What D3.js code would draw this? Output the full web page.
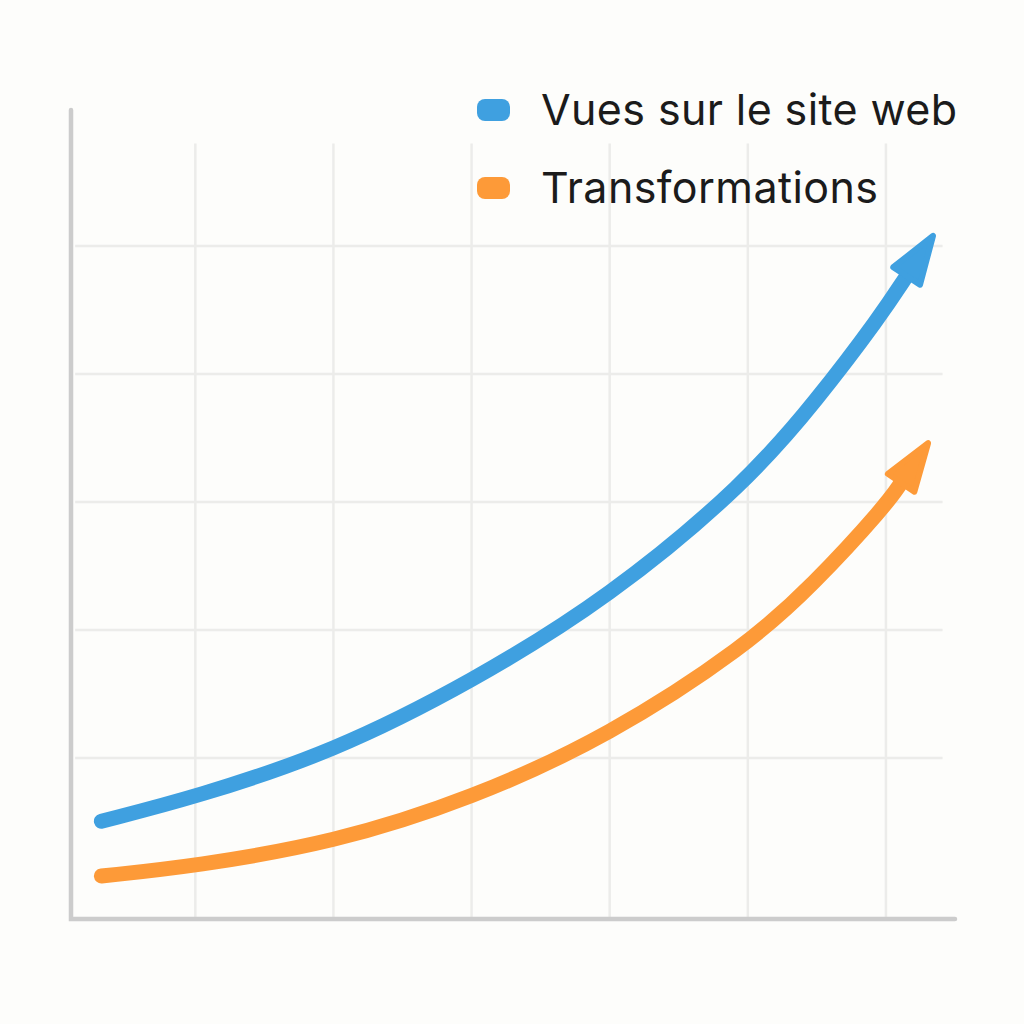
<!DOCTYPE html>
<meta charset="utf-8">
<style>
html, body { margin: 0; padding: 0; background: #fdfdfb; }
svg { display: block; }
.grid line { stroke: #ececea; stroke-width: 2.5px; }
.axis { stroke: #cccccc; stroke-width: 4.5px; stroke-linecap: round; fill: none; }
.series { fill: none; stroke-width: 15px; stroke-linecap: round; stroke-linejoin: round; }
.legend text { font-family: Inter, "Liberation Sans", Arial, sans-serif; font-size: 43px; fill: #1b1b1b; }
</style>
<body>
<script src="https://cdn.jsdelivr.net/npm/d3@7"></script>
<script>

// series values (x in weeks-ish units, y in arbitrary units)
var viewsX = [2.2, 9, 19, 29, 39, 48.9, 54, 58.6, 60.5];
var viewsY = [12.1, 15.1, 20.75, 29.5, 40.1, 54.4, 64.75, 75.25, 80.25];
var convX = [2.2, 9, 19, 29, 39, 48.9, 53.7, 59, 60.1];
var convY = [5.25, 6.5, 9.4, 14.9, 22.8, 34.0, 41.6, 51.6, 54.4];

var seriesNames = ["Vues sur le site web", "Transformations"];
var seriesColors = ["#3fa0e0", "#fd9a38"];

// grid positions
var xGrid = [9, 19, 29, 39, 49, 59];
var yGrid = [20, 36, 52, 68, 84];

var width = 1024, height = 1024;

var x = d3.scaleLinear().domain([0, 64]).range([71, 955]);
var y = d3.scaleLinear().domain([0, 101]).range([918, 110]);

var svg = d3.select("body").append("svg")
    .attr("width", width)
    .attr("height", height);

var defs = svg.append("defs");
seriesColors.forEach(function(c, i) {
  defs.append("marker")
      .attr("id", "arrow" + i)
      .attr("markerUnits", "userSpaceOnUse")
      .attr("viewBox", "-5 -25 65 50")
      .attr("markerWidth", 65)
      .attr("markerHeight", 50)
      .attr("refX", 0)
      .attr("refY", 0)
      .attr("orient", "auto")
    .append("path")
      .attr("d", "M0,-16L48,0L0,16Z")
      .attr("fill", c)
      .attr("stroke", c)
      .attr("stroke-width", 6)
      .attr("stroke-linejoin", "round");
});

var grid = svg.append("g").attr("class", "grid");

grid.selectAll(".v").data(xGrid).enter().append("line")
    .attr("class", "v")
    .attr("x1", function(d) { return x(d); })
    .attr("x2", function(d) { return x(d); })
    .attr("y1", y(96.8))
    .attr("y2", y(0));

grid.selectAll(".h").data(yGrid).enter().append("line")
    .attr("class", "h")
    .attr("x1", x(0.3))
    .attr("x2", x(63.1))
    .attr("y1", function(d) { return y(d); })
    .attr("y2", function(d) { return y(d); });

svg.append("path")
    .attr("class", "axis")
    .attr("d", "M" + x(0) + "," + y(101) + "L" + x(0) + "," + (y(0) + 1) + "L" + x(64) + "," + (y(0) + 1));

var line = d3.line()
    .x(function(d) { return x(d[0]); })
    .y(function(d) { return y(d[1]); })
    .curve(d3.curveBasis);

var series = [d3.zip(viewsX, viewsY), d3.zip(convX, convY)];

svg.selectAll(".series").data(series).enter().append("path")
    .attr("class", "series")
    .attr("stroke", function(d, i) { return seriesColors[i]; })
    .attr("marker-end", function(d, i) { return "url(#arrow" + i + ")"; })
    .attr("d", line);

var legend = svg.append("g").attr("class", "legend");

var item = legend.selectAll("g").data(seriesNames).enter().append("g")
    .attr("transform", function(d, i) { return "translate(477," + (99 + i * 78) + ")"; });

item.append("rect")
    .attr("width", 33)
    .attr("height", 22)
    .attr("rx", 8)
    .attr("fill", function(d, i) { return seriesColors[i]; });

item.append("text")
    .attr("x", 64)
    .attr("y", 26)
    .attr("textLength", function(d, i) { return i ? 337 : 416; })
    .attr("lengthAdjust", "spacing")
    .text(function(d) { return d; });

</script>
</body>
